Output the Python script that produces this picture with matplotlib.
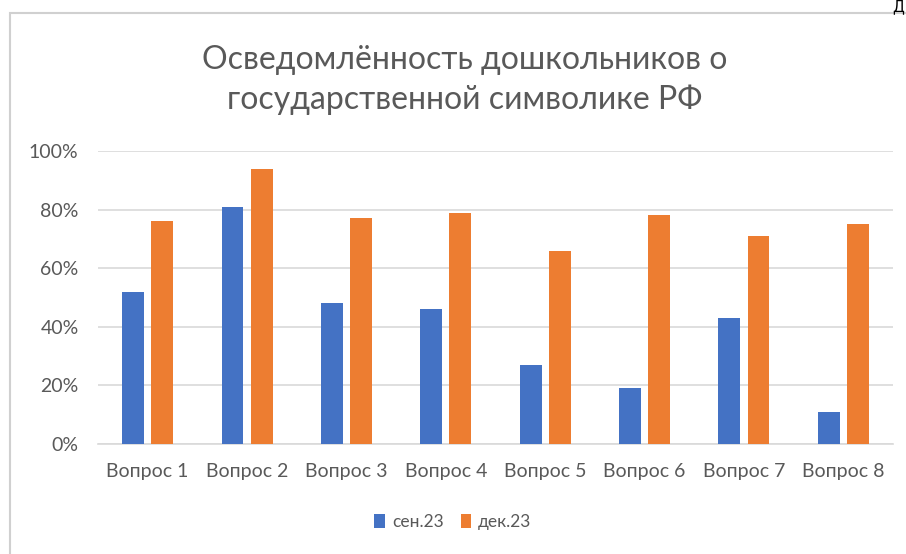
import matplotlib.pyplot as plt
from matplotlib.patches import Rectangle
from matplotlib.ticker import FuncFormatter

# данные
questions = ['Вопрос 1', 'Вопрос 2', 'Вопрос 3', 'Вопрос 4',
             'Вопрос 5', 'Вопрос 6', 'Вопрос 7', 'Вопрос 8']
sep23 = [52, 81, 48, 46, 27, 19, 43, 11]
dec23 = [76, 94, 77, 79, 66, 78, 71, 75]
series_names = ['сен.23', 'дек.23']
title = 'Осведомлённость дошкольников о\nгосударственной символике РФ'

plt.rcParams['font.family'] = ['Lato', 'DejaVu Sans']
grey = '#595959'

fig = plt.figure(figsize=(9.06, 5.54), dpi=100)

# рамка диаграммы (уходит за правый и нижний край)
fig.patches.append(Rectangle((10 / 906, -0.1), 1.2, 1 - 12.5 / 554 + 0.1,
                             transform=fig.transFigure, fill=False,
                             edgecolor='#d0d0d0', linewidth=1.5))
# кусок текста документа в правом верхнем углу
fig.text(904 / 906, 1 - 11 / 554, 'Д', ha='right', va='baseline',
         fontsize=11, color='black', family='DejaVu Sans')

ax = fig.add_axes([98 / 906, 1 - 444 / 554, 795 / 906, 293 / 554])

x = list(range(len(questions)))
w = 0.22
off = 0.146
ax.bar([i - off for i in x], sep23, width=w, color='#4472C4', label=series_names[0], zorder=3)
ax.bar([i + off for i in x], dec23, width=w, color='#ED7D31', label=series_names[1], zorder=3)

ax.set_xlim(-0.5, len(questions) - 0.5)
ax.set_ylim(0, 100)
ax.set_yticks(range(0, 101, 20))
ax.yaxis.set_major_formatter(FuncFormatter(lambda v, p: f'{int(v)}%'))
ax.set_xticks(x)
ax.set_xticklabels(questions)
ax.grid(axis='y', color='#d9d9d9', linewidth=1.2, zorder=0)
for s in ['top', 'right', 'left']:
    ax.spines[s].set_visible(False)
ax.spines['bottom'].set_color('#d9d9d9')
ax.spines['bottom'].set_linewidth(1.2)
ax.tick_params(axis='both', length=0, labelsize=14, colors=grey)
ax.tick_params(axis='y', pad=14)
ax.tick_params(axis='x', pad=14)

fig.text(465 / 906, 1 - 80 / 554, title, ha='center', va='center',
         fontsize=23, color=grey, linespacing=1.35)

ax.legend(loc='center', bbox_to_anchor=(453 / 906, 1 - 522 / 554),
          bbox_transform=fig.transFigure, ncol=2, frameon=False,
          fontsize=12.5, labelcolor=grey, handlelength=0.6, handleheight=0.8,
          handletextpad=0.4, columnspacing=1.0)

fig.savefig('out.png', dpi=100)
